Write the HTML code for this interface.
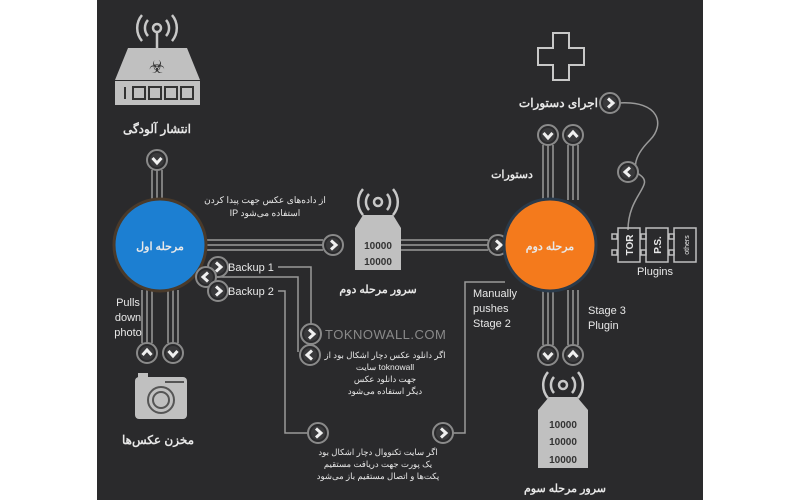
<!DOCTYPE html>
<html><head><meta charset="utf-8"><style>
html,body{margin:0;padding:0;background:#fff;width:800px;height:500px;overflow:hidden}
svg{display:block}
text{font-family:"Liberation Sans","Noto Sans CJK SC",sans-serif;fill:#e8e8e8}
.fa{font-weight:bold}
</style></head><body>
<svg width="800" height="500" viewBox="0 0 800 500">
<defs>
<g id="r"><circle r="10" fill="#2a2a2c" stroke="#8a8a8a" stroke-width="2"/><circle r="7" fill="#3a3a3c"/><path d="M-2,-4.5L3,0L-2,4.5" fill="none" stroke="#f0f0f0" stroke-width="3"/></g>
<g id="l"><circle r="10" fill="#2a2a2c" stroke="#8a8a8a" stroke-width="2"/><circle r="7" fill="#3a3a3c"/><path d="M2,-4.5L-3,0L2,4.5" fill="none" stroke="#f0f0f0" stroke-width="3"/></g>
<g id="d"><circle r="10" fill="#2a2a2c" stroke="#8a8a8a" stroke-width="2"/><circle r="7" fill="#3a3a3c"/><path d="M-4.5,-2L0,3L4.5,-2" fill="none" stroke="#f0f0f0" stroke-width="3"/></g>
<g id="u"><circle r="10" fill="#2a2a2c" stroke="#8a8a8a" stroke-width="2"/><circle r="7" fill="#3a3a3c"/><path d="M-4.5,2L0,-3L4.5,2" fill="none" stroke="#f0f0f0" stroke-width="3"/></g>
<g id="ant" fill="none" stroke="#c8c8c8" stroke-width="2.5"><circle r="4"/><path d="M-9,-8 A12,12 0 0 0 -9,8 M9,-8 A12,12 0 0 1 9,8 M-15,-13 A20,20 0 0 0 -15,13 M15,-13 A20,20 0 0 1 15,13"/></g>
</defs>
<rect x="0" y="0" width="800" height="500" fill="#fff"/>
<rect x="97" y="0" width="606" height="500" fill="#2a2a2c"/>

<g stroke="#9a9a9a" stroke-width="1.5" fill="none">
<path d="M152,170V200 M157,170V200 M162,170V200"/>
<path d="M205,240H323 M205,245H323 M205,250H323"/>
<path d="M400,240H488 M400,245H488 M400,250H488"/>
<path d="M543,145V200 M548,145V200 M553,145V200 M568,145V200 M573,145V200 M578,145V200"/>
<path d="M543,290V345 M548,290V345 M553,290V345 M568,290V345 M573,290V345 M578,290V345"/>
<path d="M142,290V343 M147,290V343 M152,290V343 M168,290V343 M173,290V343 M178,290V343"/>
<path d="M278,267H311V332 M216,277H298V352 M278,291H285V433H310"/>
<path d="M505,282H465V433H452"/>
<path d="M618,103C660,100 665,125 650,140C630,160 635,172 640,175C655,185 628,195 628,230"/>
</g>

<use href="#ant" x="157" y="28"/>
<line x1="157" y1="32" x2="157" y2="48" stroke="#c8c8c8" stroke-width="2.5"/>
<path d="M128,48H187L200,80H115Z" fill="#c0c0c0"/>
<text x="157" y="73" font-size="18" text-anchor="middle" style="fill:#333">☣</text>
<rect x="115" y="81" width="85" height="24" fill="#c0c0c0"/>
<g fill="none" stroke="#333" stroke-width="2"><line x1="125" y1="87" x2="125" y2="99"/><rect x="133" y="87" width="12" height="12"/><rect x="149" y="87" width="12" height="12"/><rect x="165" y="87" width="12" height="12"/><rect x="181" y="87" width="12" height="12"/></g>
<text x="157" y="133" font-size="12" class="fa" text-anchor="middle">انتشار آلودگی</text>
<use href="#d" x="157" y="160"/>

<circle cx="160" cy="245" r="46" fill="#1c7fd2" stroke="#4a3a2a" stroke-width="3"/>
<text x="160" y="250" font-size="11" class="fa" text-anchor="middle">مرحله اول</text>
<text x="265" y="203" font-size="9" text-anchor="middle">از داده‌های عکس جهت پیدا کردن</text>
<text x="265" y="216" font-size="9" text-anchor="middle">IP استفاده می‌شود</text>
<use href="#r" x="333" y="245"/>

<use href="#ant" x="378" y="202"/>
<path d="M363,215H393L401,228H355Z" fill="#c0c0c0"/>
<rect x="355" y="228" width="46" height="42" fill="#c0c0c0"/>
<text x="378" y="249" font-size="10" text-anchor="middle" font-weight="bold" style="fill:#333">10000</text>
<text x="378" y="265" font-size="10" text-anchor="middle" font-weight="bold" style="fill:#333">10000</text>
<text x="378" y="293" font-size="11" class="fa" text-anchor="middle">سرور مرحله دوم</text>
<use href="#r" x="498" y="245"/>

<circle cx="550" cy="245" r="46" fill="#f47a1c" stroke="#2a3a4a" stroke-width="3"/>
<text x="550" y="250" font-size="11" class="fa" text-anchor="middle">مرحله دوم</text>
<use href="#d" x="548" y="135"/><use href="#u" x="573" y="135"/>
<text x="512" y="178" font-size="11" class="fa" text-anchor="middle">دستورات</text>
<text x="598" y="107" font-size="12" class="fa" text-anchor="end">اجرای دستورات</text>
<use href="#r" x="610" y="103"/>
<use href="#l" x="628" y="172"/>
<path d="M553,33H569V48H584V65H569V80H553V65H538V48H553Z" fill="none" stroke="#c8c8c8" stroke-width="2"/>
<g fill="none" stroke="#c0c0c0" stroke-width="1.5">
<rect x="618" y="228" width="22" height="34"/><rect x="646" y="228" width="22" height="34"/><rect x="674" y="228" width="22" height="34"/>
<rect x="612" y="234" width="5" height="5"/><rect x="612" y="250" width="5" height="5"/>
<rect x="641" y="234" width="5" height="5"/><rect x="641" y="250" width="5" height="5"/>
<rect x="669" y="234" width="5" height="5"/><rect x="669" y="250" width="5" height="5"/>
</g>
<text transform="translate(633,245) rotate(-90)" font-size="10" text-anchor="middle" font-weight="bold">TOR</text>
<text transform="translate(661,245) rotate(-90)" font-size="10" text-anchor="middle" font-weight="bold">P.S.</text>
<text transform="translate(689,245) rotate(-90)" font-size="7" text-anchor="middle">others</text>
<text x="655" y="275" font-size="11" text-anchor="middle">Plugins</text>

<text x="588" y="314" font-size="11">Stage 3</text>
<text x="588" y="329" font-size="11">Plugin</text>
<text x="473" y="297" font-size="11">Manually</text>
<text x="473" y="312" font-size="11">pushes</text>
<text x="473" y="327" font-size="11">Stage 2</text>
<use href="#d" x="548" y="355"/><use href="#u" x="573" y="355"/>

<use href="#ant" x="563" y="385"/>
<path d="M549,397H577L588,410H538Z" fill="#c0c0c0"/>
<rect x="538" y="410" width="50" height="58" fill="#c0c0c0"/>
<g font-size="10" font-weight="bold" text-anchor="middle">
<text x="563" y="428" style="fill:#333">10000</text><text x="563" y="445" style="fill:#333">10000</text><text x="563" y="463" style="fill:#333">10000</text></g>
<text x="565" y="492" font-size="11" class="fa" text-anchor="middle">سرور مرحله سوم</text>

<use href="#r" x="218" y="267"/><use href="#l" x="206" y="277"/><use href="#r" x="218" y="291"/>
<text x="228" y="271" font-size="11">Backup 1</text>
<text x="228" y="295" font-size="11">Backup 2</text>
<use href="#r" x="311" y="334"/>
<text x="325" y="339" font-size="13" style="fill:#8a8a8a" letter-spacing="0.5">TOKNOWALL.COM</text>
<use href="#l" x="310" y="355"/>
<g font-size="8.5" text-anchor="middle">
<text x="385" y="358">اگر دانلود عکس دچار اشکال بود از</text>
<text x="385" y="370">سایت toknowall</text>
<text x="385" y="382">جهت دانلود عکس</text>
<text x="385" y="394">دیگر استفاده می‌شود</text>
</g>
<use href="#r" x="318" y="433"/>
<use href="#r" x="443" y="433"/>
<g font-size="8.5" text-anchor="middle">
<text x="378" y="455">اگر سایت تکنووال دچار اشکال بود</text>
<text x="378" y="467">یک پورت جهت دریافت مستقیم</text>
<text x="378" y="479">پکت‌ها و اتصال مستقیم باز می‌شود</text>
</g>

<text x="128" y="306" font-size="11" text-anchor="middle">Pulls</text>
<text x="128" y="321" font-size="11" text-anchor="middle">down</text>
<text x="128" y="336" font-size="11" text-anchor="middle">photo</text>
<use href="#u" x="147" y="353"/><use href="#d" x="173" y="353"/>
<rect x="135" y="377" width="52" height="42" rx="4" fill="#c0c0c0"/>
<rect x="138" y="373" width="10" height="5" fill="#c0c0c0"/>
<circle cx="161" cy="400" r="13" fill="none" stroke="#555" stroke-width="2"/>
<circle cx="161" cy="400" r="8" fill="none" stroke="#555" stroke-width="2"/>
<line x1="165" y1="382" x2="184" y2="382" stroke="#555" stroke-width="2"/>
<text x="158" y="444" font-size="12" class="fa" text-anchor="middle">مخزن عکس‌ها</text>
</svg>
</body></html>
